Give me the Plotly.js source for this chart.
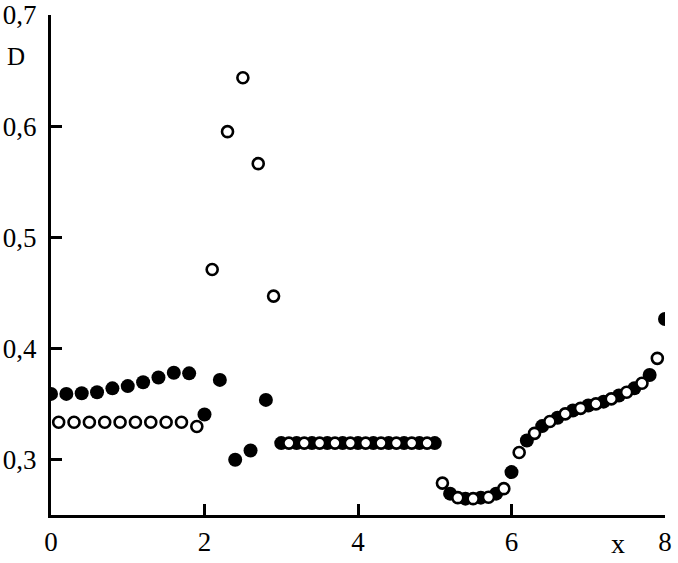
<!DOCTYPE html>
<html>
<head>
<meta charset="utf-8">
<script src="https://cdn.plot.ly/plotly-3.0.1.min.js"></script>
<style>
  body { margin: 0; background: #fff; }
  #plot { width: 678px; height: 563px; }
</style>
</head>
<body>
<div id="plot"></div>
<script>
// filled circles
const filledX = [0, 0.2, 0.4, 0.6, 0.8, 1.0, 1.2, 1.4, 1.6, 1.8,
  2.0, 2.2, 2.4, 2.6, 2.8,
  3.0, 3.2, 3.4, 3.6, 3.8, 4.0, 4.2, 4.4, 4.6, 4.8, 5.0,
  5.2, 5.4, 5.6, 5.8, 6.0, 6.2, 6.4, 6.6, 6.8, 7.0, 7.2, 7.4, 7.6, 7.8, 8.0];
const filledD = [0.359, 0.359, 0.3596, 0.3605, 0.364, 0.366, 0.3695, 0.3737, 0.378, 0.3775,
  0.3404, 0.3716, 0.2997, 0.308, 0.3536,
  0.3147, 0.3147, 0.3147, 0.3147, 0.3147, 0.3147, 0.3147, 0.3147, 0.3147, 0.3147, 0.3147,
  0.2692, 0.2647, 0.2656, 0.2692, 0.2886, 0.317, 0.33, 0.3375, 0.344, 0.3485, 0.352, 0.3575, 0.364, 0.376, 0.4264];

// open circles
const openX = [0.1, 0.3, 0.5, 0.7, 0.9, 1.1, 1.3, 1.5, 1.7, 1.9,
  2.1, 2.3, 2.5, 2.7, 2.9,
  3.1, 3.3, 3.5, 3.7, 3.9, 4.1, 4.3, 4.5, 4.7, 4.9,
  5.1, 5.3, 5.5, 5.7, 5.9, 6.1, 6.3, 6.5, 6.7, 6.9, 7.1, 7.3, 7.5, 7.7, 7.9];
const openD = [0.3335, 0.3335, 0.3335, 0.3335, 0.3335, 0.3335, 0.3335, 0.3335, 0.3335, 0.3297,
  0.471, 0.595, 0.6435, 0.5662, 0.447,
  0.3147, 0.3147, 0.3147, 0.3147, 0.3147, 0.3147, 0.3147, 0.3147, 0.3147, 0.3147,
  0.2787, 0.2656, 0.2647, 0.266, 0.2737, 0.3062, 0.3235, 0.3341, 0.341, 0.346, 0.35, 0.3545, 0.3605, 0.3686, 0.391];

const xTicks = [0, 2, 4, 6, 8];
const yTicks = [0.3, 0.4, 0.5, 0.6, 0.7];

const serif = 'Liberation Serif, Times New Roman, serif';
const tickFont = { family: serif, size: 27, color: '#000' };

const filled = {
  x: filledX,
  y: filledD,
  mode: 'markers',
  type: 'scatter',
  marker: { size: 14, color: '#000' },
};

const open = {
  x: openX,
  y: openD,
  mode: 'markers',
  type: 'scatter',
  marker: { size: 11, color: '#fff', line: { color: '#000', width: 2.6 } },
};

const layout = {
  width: 678,
  height: 563,
  margin: { l: 51, r: 13, t: 15, b: 48 },
  showlegend: false,
  separators: ', ',
  paper_bgcolor: '#fff',
  plot_bgcolor: '#fff',
  font: { family: serif, size: 26, color: '#000' },
  xaxis: {
    range: [0, 8],
    tickvals: xTicks,
    tickfont: tickFont,
    showline: true, linewidth: 3, linecolor: '#000',
    ticks: 'inside', ticklen: 11, tickwidth: 3, tickcolor: '#000',
    showgrid: false, zeroline: false,
    ticklabelstandoff: 1,
  },
  yaxis: {
    range: [0.25, 0.7],
    tickvals: yTicks,
    tickformat: '.1f',
    tickfont: tickFont,
    showline: true, linewidth: 3, linecolor: '#000',
    ticks: 'inside', ticklen: 11, tickwidth: 3, tickcolor: '#000',
    showgrid: false, zeroline: false,
    ticklabelstandoff: 6,
  },
  annotations: [
    { text: 'D', xref: 'paper', yref: 'paper', x: -0.057, y: 0.916,
      xanchor: 'center', yanchor: 'middle',
      showarrow: false, font: { family: serif, size: 25 } },
    { text: 'x', xref: 'paper', yref: 'paper', x: 0.923, y: -0.057,
      xanchor: 'center', yanchor: 'middle',
      showarrow: false, font: { family: serif, size: 28 } },
  ],
};

Plotly.newPlot('plot', [filled, open], layout, { displayModeBar: false });
</script>
</body>
</html>
